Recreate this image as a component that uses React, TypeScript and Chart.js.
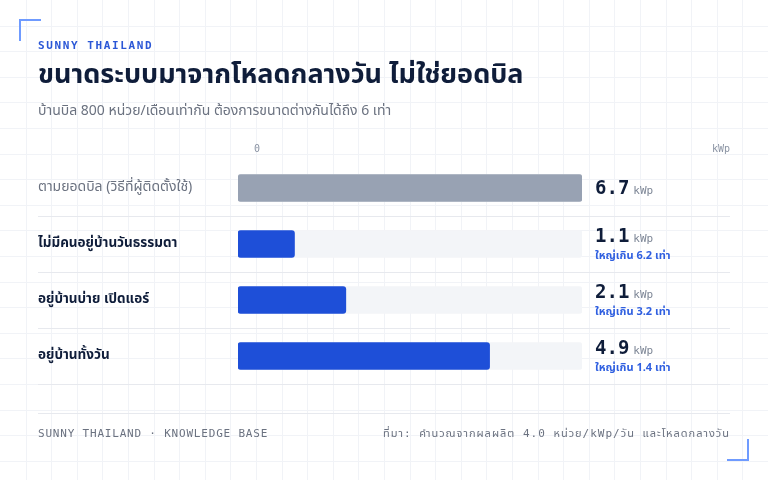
import React, { useEffect, useRef } from "react";
import { Chart, BarController, BarElement, LinearScale, CategoryScale } from "chart.js";

Chart.register(BarController, BarElement, LinearScale, CategoryScale);

const categories = [
    "ตามยอดบิล (วิธีที่ผู้ติดตั้งใช้)",
    "ไม่มีคนอยู่บ้านวันธรรมดา",
    "อยู่บ้านบ่าย เปิดแอร์",
    "อยู่บ้านทั้งวัน",
];
const systemSize = [6.7, 1.1, 2.1, 4.9]; // kWp
const oversizeRatio = [null, 6.2, 3.2, 1.4]; // times bigger than needed
const barColors = ["#98a2b3", "#1e4fd8", "#1e4fd8", "#1e4fd8"];
const maxSize = Math.max(...systemSize);
const trackValues = systemSize.map(() => maxSize);

const SANS = '"Noto Sans Thai", "IBM Plex Sans Thai", "Noto Sans", sans-serif';
const MONO = '"DejaVu Sans Mono", "Noto Sans Thai", monospace';

// stretch a string with letter spacing so it fills the given width
function fillFitted(ctx: CanvasRenderingContext2D, text: string, x: number, y: number, targetW: number) {
    const c = ctx as any;
    c.letterSpacing = "0px";
    const w0 = ctx.measureText(text).width;
    c.letterSpacing = "1px";
    const w1 = ctx.measureText(text).width;
    const perPx = Math.max(1, w1 - w0);
    const sp = Math.max(0, (targetW - w0) / perPx);
    c.letterSpacing = `${sp}px`;
    ctx.fillText(text, x, y);
    c.letterSpacing = "0px";
}

const decorPlugin = {
    id: "decor",
    beforeDraw(chart: Chart) {
        const { ctx, width, height } = chart;
        ctx.save();
        ctx.fillStyle = "#ffffff";
        ctx.fillRect(0, 0, width, height);
        // faint grid paper
        ctx.strokeStyle = "#f1f3f7";
        ctx.lineWidth = 1;
        for (let x = 25.6; x < width; x += 25.6) {
            ctx.beginPath();
            ctx.moveTo(Math.round(x) + 0.5, 0);
            ctx.lineTo(Math.round(x) + 0.5, height);
            ctx.stroke();
        }
        for (let y = 25.6; y < height; y += 25.6) {
            ctx.beginPath();
            ctx.moveTo(0, Math.round(y) + 0.5);
            ctx.lineTo(width, Math.round(y) + 0.5);
            ctx.stroke();
        }
        // corner brackets
        ctx.strokeStyle = "#6f9bff";
        ctx.lineWidth = 2;
        ctx.beginPath();
        ctx.moveTo(20, 41);
        ctx.lineTo(20, 20);
        ctx.lineTo(41, 20);
        ctx.stroke();
        ctx.beginPath();
        ctx.moveTo(727, 460);
        ctx.lineTo(748, 460);
        ctx.lineTo(748, 439);
        ctx.stroke();

        // header
        ctx.textBaseline = "middle";
        ctx.textAlign = "left";
        ctx.fillStyle = "#2b57d6";
        ctx.font = `bold 11px ${MONO}`;
        (ctx as any).letterSpacing = "1.6px";
        ctx.fillText("SUNNY THAILAND", 38, 46);
        (ctx as any).letterSpacing = "0px";
        ctx.fillStyle = "#0f1d3a";
        ctx.font = `bold 27px ${SANS}`;
        ctx.fillText("ขนาดระบบมาจากโหลดกลางวัน ไม่ใช่ยอดบิล", 38, 78);
        ctx.fillStyle = "#6b7280";
        ctx.font = `14px ${SANS}`;
        ctx.fillText("บ้านบิล 800 หน่วย/เดือนเท่ากัน ต้องการขนาดต่างกันได้ถึง 6 เท่า", 38, 112);

        // row separators and footer rule
        ctx.strokeStyle = "#e7e9ee";
        ctx.lineWidth = 1;
        const yScale = chart.scales.y;
        categories.forEach((_, i) => {
            const yb = Math.round(yScale.getPixelForValue(i) + 28) + 0.5;
            ctx.beginPath();
            ctx.moveTo(38, yb);
            ctx.lineTo(730, yb);
            ctx.stroke();
        });
        ctx.beginPath();
        ctx.moveTo(38, 413.5);
        ctx.lineTo(730, 413.5);
        ctx.stroke();

        // footer
        ctx.fillStyle = "#6b7280";
        ctx.font = `11px ${MONO}`;
        (ctx as any).letterSpacing = "0.8px";
        ctx.fillText("SUNNY THAILAND · KNOWLEDGE BASE", 38, 434);
        (ctx as any).letterSpacing = "0px";
        fillFitted(ctx, "ที่มา: คำนวณจากผลผลิต 4.0 หน่วย/kWp/วัน และโหลดกลางวัน", 383, 434, 347);
        ctx.restore();
    },
    afterDatasetsDraw(chart: Chart) {
        const { ctx } = chart;
        const xScale = chart.scales.x;
        const yScale = chart.scales.y;
        ctx.save();
        ctx.textBaseline = "middle";

        // axis header
        ctx.fillStyle = "#8a93a3";
        ctx.font = `10px ${MONO}`;
        ctx.textAlign = "left";
        ctx.fillText("0", xScale.getPixelForValue(0) + 16, 149);
        ctx.textAlign = "right";
        ctx.fillText("kWp", 730, 149);

        categories.forEach((label, i) => {
            const yc = yScale.getPixelForValue(i);
            ctx.textAlign = "left";
            if (i === 0) {
                ctx.fillStyle = "#6b7280";
                ctx.font = `14px ${SANS}`;
            } else {
                ctx.fillStyle = "#0f1d3a";
                ctx.font = `bold 13.5px ${SANS}`;
            }
            ctx.fillText(label, 38, yc);

            const ratio = oversizeRatio[i];
            const vy = ratio === null ? yc + 1 : yc - 7;
            const valueText = systemSize[i].toFixed(1);
            ctx.fillStyle = "#0f1d3a";
            ctx.font = `bold 19px ${MONO}`;
            ctx.fillText(valueText, 595, vy);
            const w = ctx.measureText(valueText).width;
            ctx.fillStyle = "#7d8696";
            ctx.font = `11px ${MONO}`;
            ctx.fillText("kWp", 595 + w + 4, vy + 2);
            if (ratio !== null) {
                ctx.fillStyle = "#2f5fe0";
                ctx.font = `bold 11px ${SANS}`;
                ctx.fillText(`ใหญ่เกิน ${ratio.toFixed(1)} เท่า`, 595, yc + 13);
            }
        });
        ctx.restore();
    },
};

const App: React.FC = () => {
    const canvasRef = useRef<HTMLCanvasElement | null>(null);

    useEffect(() => {
        document.body.style.margin = "0";
        if (!canvasRef.current) return;
        const chart = new Chart(canvasRef.current, {
            type: "bar",
            data: {
                labels: categories,
                datasets: [
                    {
                        label: "size",
                        data: systemSize,
                        backgroundColor: barColors,
                        barThickness: 27,
                        borderRadius: 3,
                        borderSkipped: false,
                        grouped: false,
                        order: 0,
                    },
                    {
                        label: "track",
                        data: trackValues,
                        backgroundColor: "#f3f5f8",
                        barThickness: 27,
                        borderRadius: 3,
                        borderSkipped: false,
                        grouped: false,
                        order: 1,
                    },
                ],
            },
            options: {
                indexAxis: "y",
                responsive: false,
                animation: false,
                layout: { padding: { left: 238, right: 186, top: 160, bottom: 96 } },
                scales: {
                    x: { display: false, min: 0, max: maxSize },
                    y: { display: false },
                },
                plugins: { legend: { display: false }, tooltip: { enabled: false } },
            },
            plugins: [decorPlugin],
        });
        return () => chart.destroy();
    }, []);

    return (
        <div style={{ position: "absolute", left: 0, top: 0, width: 768, height: 480 }}>
            <canvas ref={canvasRef} width={768} height={480} />
        </div>
    );
};

export default App;
